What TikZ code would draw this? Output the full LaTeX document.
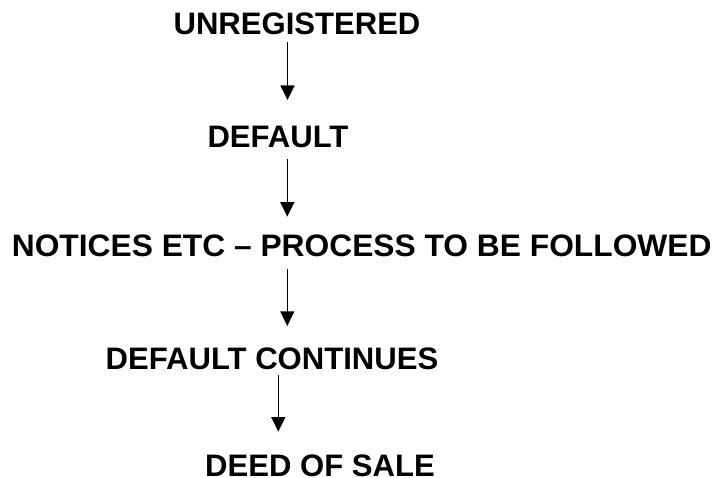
\documentclass[tikz,border=0pt]{standalone}
\usepackage{fontspec}
\setmainfont{Liberation Sans}
\usetikzlibrary{arrows.meta}
\begin{document}
\begin{tikzpicture}[x=0.75pt,y=-0.75pt,
  lbl/.style={anchor=base,inner sep=0pt,font=\bfseries\fontsize{23.3}{27}\selectfont},
  flow/.style={line width=1.2pt,-{Triangle[width=10.5pt,length=11pt]}}]
\useasboundingbox[fill=white] (0,0) rectangle (715,478);
\node[lbl] (n1) at (297,35) {UNREGISTERED};
\node[lbl] (n2) at (278,147) {DEFAULT};
\node[lbl,xscale=1.022] (n3) at (361.7,257) {NOTICES ETC -- PROCESS TO BE FOLLOWED};
\node[lbl] (n4) at (272,369) {DEFAULT CONTINUES};
\node[lbl] (n5) at (320,476) {DEED OF SALE};
\coordinate (a1s) at (287.5,42);  \coordinate (a1e) at (287.5,100);
\coordinate (a2s) at (287.3,159); \coordinate (a2e) at (287.3,216.7);
\coordinate (a3s) at (287.3,269); \coordinate (a3e) at (287.3,326);
\coordinate (a4s) at (278.3,375); \coordinate (a4e) at (278.3,431.7);
\draw[flow] (a1s) -- (a1e);
\draw[flow] (a2s) -- (a2e);
\draw[flow] (a3s) -- (a3e);
\draw[flow] (a4s) -- (a4e);
\end{tikzpicture}
\end{document}
